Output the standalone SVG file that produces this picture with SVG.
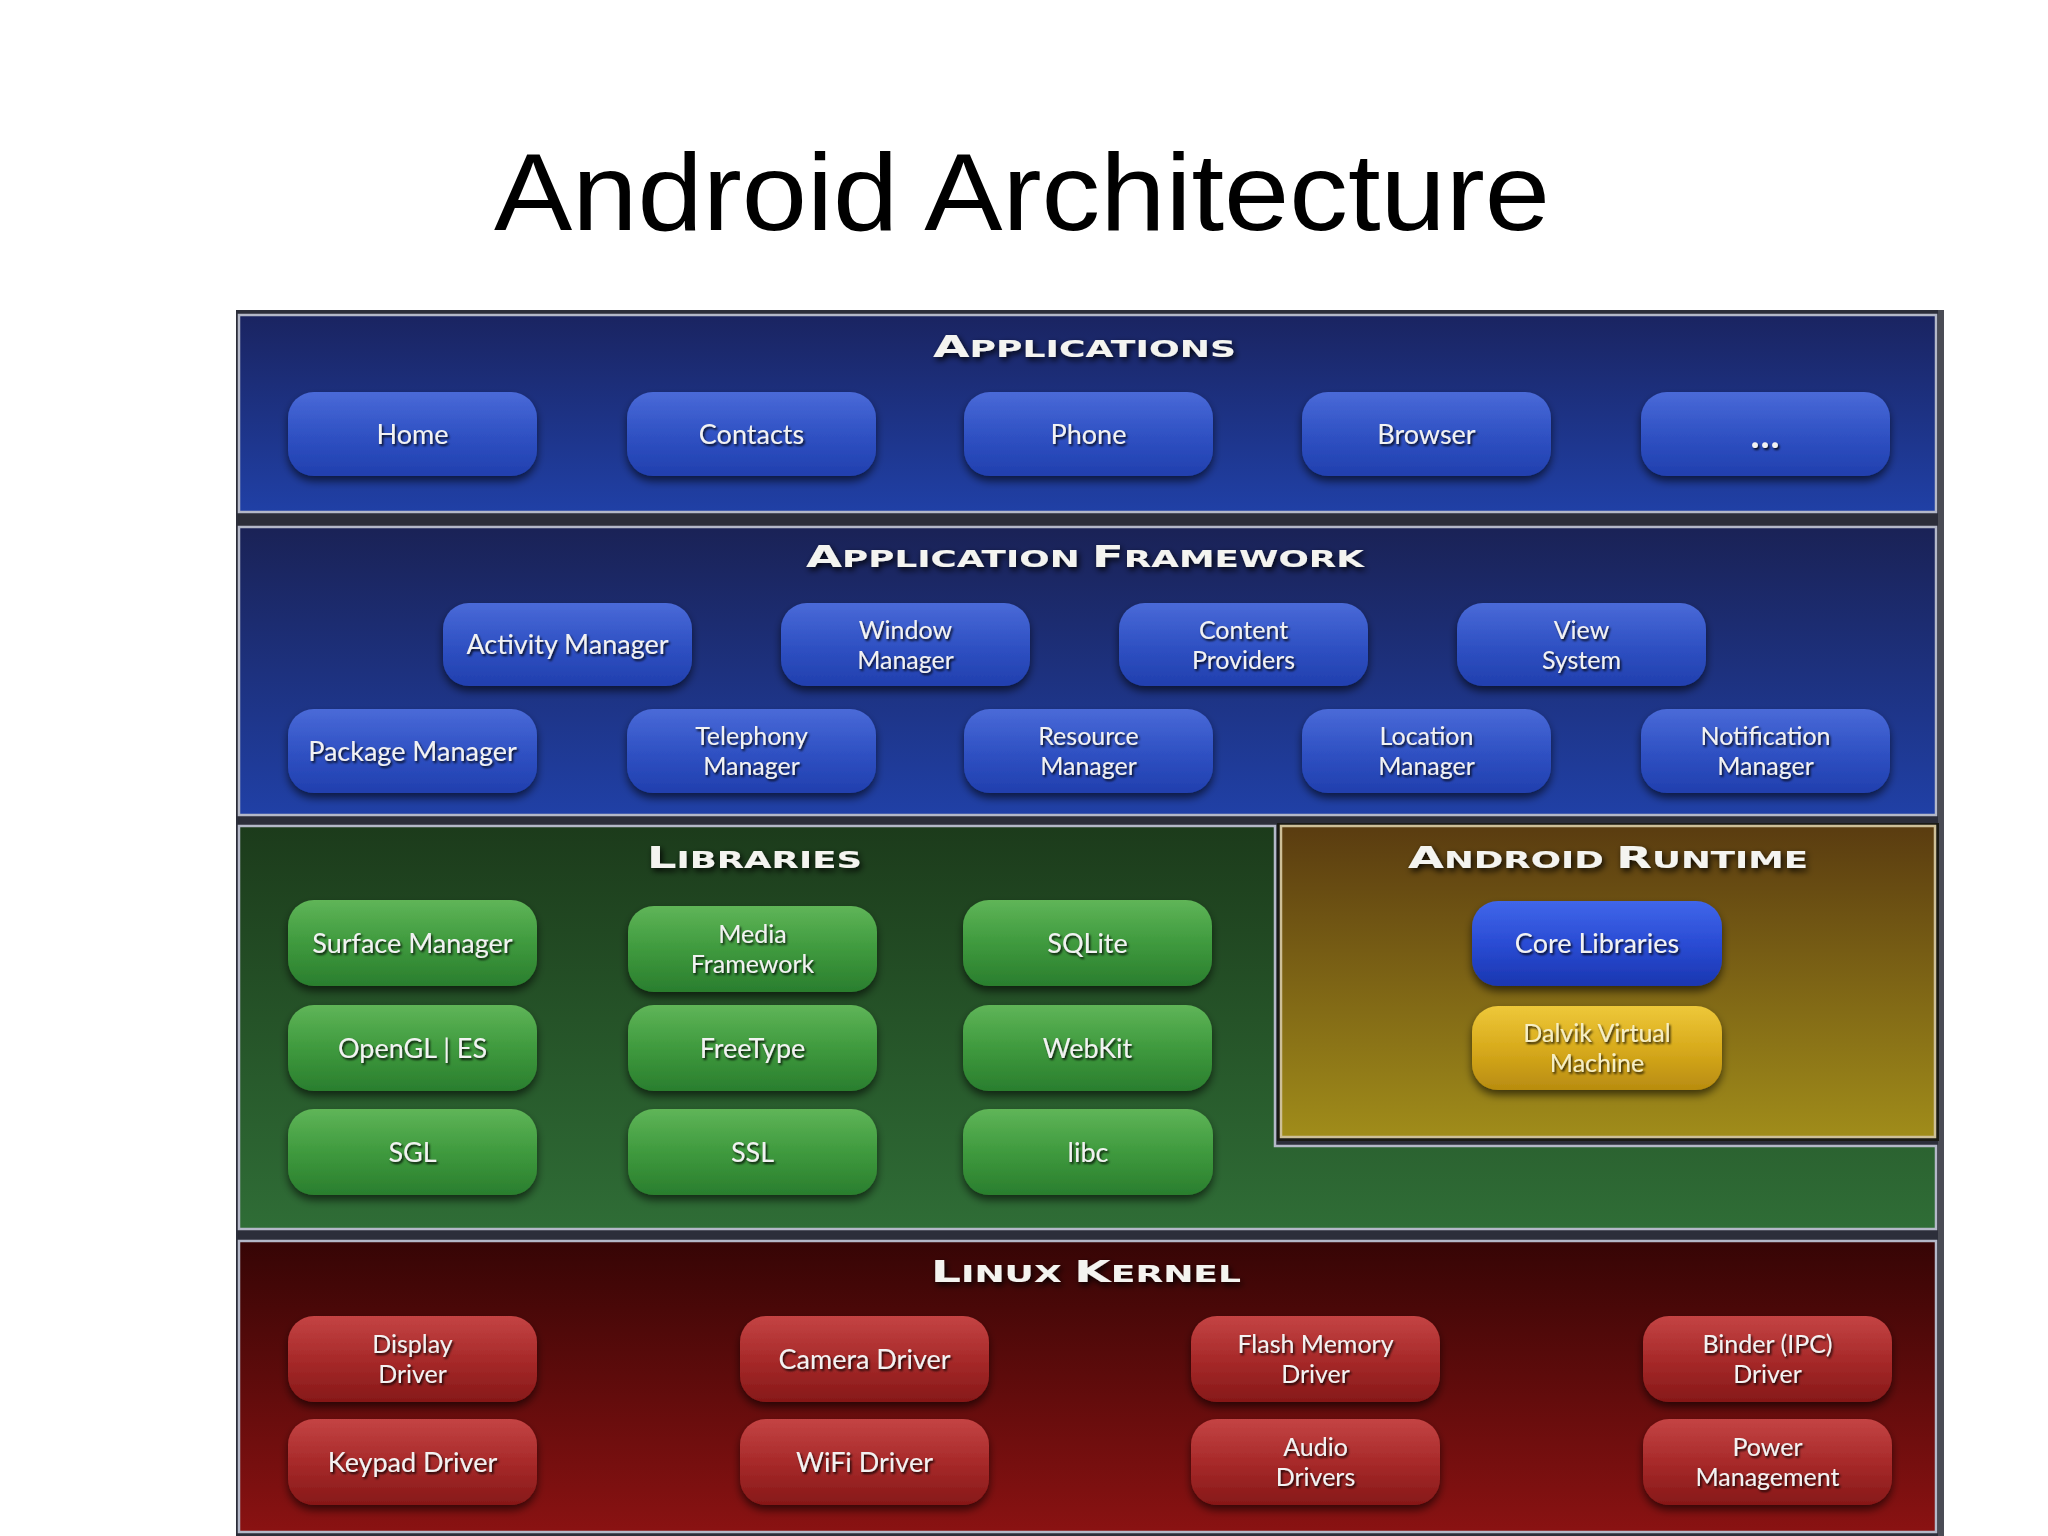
<svg xmlns="http://www.w3.org/2000/svg" width="2048" height="1536" viewBox="0 0 2048 1536">
<defs>
<linearGradient id="gApps" x1="0" y1="0" x2="0" y2="1"><stop offset="0" stop-color="#1a2461"/><stop offset="1" stop-color="#2040a6"/></linearGradient>
<linearGradient id="gFw" x1="0" y1="0" x2="0" y2="1"><stop offset="0" stop-color="#1a2256"/><stop offset="1" stop-color="#2040a6"/></linearGradient>
<linearGradient id="gLib" x1="0" y1="0" x2="0" y2="1"><stop offset="0" stop-color="#1c3b1b"/><stop offset="1" stop-color="#2f6d36"/></linearGradient>
<linearGradient id="gRt" x1="0" y1="0" x2="0" y2="1"><stop offset="0" stop-color="#5a3c10"/><stop offset="1" stop-color="#a08c1a"/></linearGradient>
<linearGradient id="gLnx" x1="0" y1="0" x2="0" y2="1"><stop offset="0" stop-color="#360505"/><stop offset="1" stop-color="#8a1212"/></linearGradient>
<linearGradient id="bBlue" x1="0" y1="0" x2="0" y2="1"><stop offset="0" stop-color="#4a6ad8"/><stop offset="0.5" stop-color="#3052c4"/><stop offset="1" stop-color="#213fae"/></linearGradient>
<linearGradient id="bCore" x1="0" y1="0" x2="0" y2="1"><stop offset="0" stop-color="#4066ea"/><stop offset="0.5" stop-color="#2a4cd4"/><stop offset="1" stop-color="#1a36b0"/></linearGradient>
<linearGradient id="bGreen" x1="0" y1="0" x2="0" y2="1"><stop offset="0" stop-color="#5fb558"/><stop offset="0.5" stop-color="#3f9a3e"/><stop offset="1" stop-color="#2a7e2e"/></linearGradient>
<linearGradient id="bYellow" x1="0" y1="0" x2="0" y2="1"><stop offset="0" stop-color="#eec83a"/><stop offset="0.5" stop-color="#d8ab1c"/><stop offset="1" stop-color="#b88c10"/></linearGradient>
<linearGradient id="bRed" x1="0" y1="0" x2="0" y2="1"><stop offset="0" stop-color="#c44444"/><stop offset="0.5" stop-color="#a82a2a"/><stop offset="1" stop-color="#861818"/></linearGradient>
<filter id="btnShadow" x="-10%" y="-15%" width="120%" height="145%"><feDropShadow dx="0" dy="5" stdDeviation="4" flood-color="#000" flood-opacity="0.6"/></filter>
<filter id="txtShadow" x="-10%" y="-30%" width="120%" height="160%"><feDropShadow dx="1.5" dy="2" stdDeviation="1" flood-color="#000" flood-opacity="0.85"/></filter>
<filter id="hdrShadow" x="-10%" y="-50%" width="120%" height="200%"><feDropShadow dx="2" dy="3" stdDeviation="3" flood-color="#000" flood-opacity="0.9"/></filter>
</defs>
<style>
.band{stroke:#b4b8c8;stroke-width:2.5}
.btn{filter:url(#btnShadow)}
.bb{fill:url(#bBlue)}
.bc{fill:url(#bCore)}
.bg{fill:url(#bGreen)}
.by{fill:url(#bYellow)}
.br{fill:url(#bRed)}
.lbl{font-family:Lato,"Open Sans","Liberation Sans",sans-serif;font-size:27px;fill:#f2f2f2;text-anchor:middle;filter:url(#txtShadow)}
.l2{font-size:25px}
.ly{fill:#f6eec4}
.dots{font-size:38px;font-weight:bold;letter-spacing:1px}
.hdr{font-family:"DejaVu Sans","Liberation Sans",sans-serif;font-weight:bold;font-size:30px;fill:#f4f4f0;filter:url(#hdrShadow)}
.sc{font-size:23px}
.title{font-family:"Liberation Sans",Arial,sans-serif;font-size:110px;fill:#000}
</style>
<rect x="0" y="0" width="2048" height="1536" fill="#ffffff"/>
<text class="title" x="494" y="230" textLength="1056" lengthAdjust="spacingAndGlyphs">Android Architecture</text>

<g id="frame">
<rect x="236" y="310" width="1708" height="1226" fill="#2c2e3a"/>
<rect x="1938" y="310" width="6" height="1226" fill="#4a4c55"/>
</g>

<g id="applications">
<rect class="band" x="239" y="315" width="1697" height="197" fill="url(#gApps)"/>
<text class="hdr" x="933" y="357" textLength="303" lengthAdjust="spacingAndGlyphs">A<tspan class="sc">PPLICATIONS</tspan></text>
</g>
<g id="framework">
<rect class="band" x="239" y="527" width="1697" height="288" fill="url(#gFw)"/>
<text class="hdr" x="806" y="567" textLength="558" lengthAdjust="spacingAndGlyphs">A<tspan class="sc">PPLICATION </tspan>F<tspan class="sc">RAMEWORK</tspan></text>
</g>
<g id="libraries">
<path class="band" d="M239,826 H1275 V1146 H1936 V1229 H239 Z" fill="url(#gLib)"/>
<text class="hdr" x="647" y="868" textLength="215" lengthAdjust="spacingAndGlyphs">L<tspan class="sc">IBRARIES</tspan></text>
</g>
<g id="runtime">
<rect x="1277" y="823" width="662" height="318" fill="#1a1a14"/>
<rect x="1281" y="826" width="654" height="311" fill="url(#gRt)" stroke="#cdbf98" stroke-width="2.5"/>
<text class="hdr" x="1408" y="868" textLength="400" lengthAdjust="spacingAndGlyphs">A<tspan class="sc">NDROID </tspan>R<tspan class="sc">UNTIME</tspan></text>
</g>
<g id="linux">
<rect class="band" x="239" y="1241" width="1697" height="291" fill="url(#gLnx)" stroke="#c4aaaa"/>
<text class="hdr" x="931" y="1282" textLength="310" lengthAdjust="spacingAndGlyphs">L<tspan class="sc">INUX </tspan>K<tspan class="sc">ERNEL</tspan></text>
</g>

<g id="connectors"></g>

<!-- Applications -->
<g id="home"><rect class="btn bb" x="288" y="392" width="249" height="84" rx="26"/><text class="lbl" x="412.5" y="444">Home</text></g>
<g id="contacts"><rect class="btn bb" x="627" y="392" width="249" height="84" rx="26"/><text class="lbl" x="751.5" y="444">Contacts</text></g>
<g id="phone"><rect class="btn bb" x="964" y="392" width="249" height="84" rx="26"/><text class="lbl" x="1088.5" y="444">Phone</text></g>
<g id="browser"><rect class="btn bb" x="1302" y="392" width="249" height="84" rx="26"/><text class="lbl" x="1426.5" y="444">Browser</text></g>
<g id="more-apps"><rect class="btn bb" x="1641" y="392" width="249" height="84" rx="26"/><text class="lbl dots" x="1765.5" y="448">...</text></g>

<!-- Application Framework -->
<g id="activity-manager"><rect class="btn bb" x="443" y="603" width="249" height="83" rx="26"/><text class="lbl" x="567.5" y="654">Activity Manager</text></g>
<g id="window-manager"><rect class="btn bb" x="781" y="603" width="249" height="83" rx="26"/><text class="lbl l2" x="905.5" y="639">Window<tspan x="905.5" dy="30">Manager</tspan></text></g>
<g id="content-providers"><rect class="btn bb" x="1119" y="603" width="249" height="83" rx="26"/><text class="lbl l2" x="1243.5" y="639">Content<tspan x="1243.5" dy="30">Providers</tspan></text></g>
<g id="view-system"><rect class="btn bb" x="1457" y="603" width="249" height="83" rx="26"/><text class="lbl l2" x="1581.5" y="639">View<tspan x="1581.5" dy="30">System</tspan></text></g>
<g id="package-manager"><rect class="btn bb" x="288" y="709" width="249" height="84" rx="26"/><text class="lbl" x="412.5" y="761">Package Manager</text></g>
<g id="telephony-manager"><rect class="btn bb" x="627" y="709" width="249" height="84" rx="26"/><text class="lbl l2" x="751.5" y="745">Telephony<tspan x="751.5" dy="30">Manager</tspan></text></g>
<g id="resource-manager"><rect class="btn bb" x="964" y="709" width="249" height="84" rx="26"/><text class="lbl l2" x="1088.5" y="745">Resource<tspan x="1088.5" dy="30">Manager</tspan></text></g>
<g id="location-manager"><rect class="btn bb" x="1302" y="709" width="249" height="84" rx="26"/><text class="lbl l2" x="1426.5" y="745">Location<tspan x="1426.5" dy="30">Manager</tspan></text></g>
<g id="notification-manager"><rect class="btn bb" x="1641" y="709" width="249" height="84" rx="26"/><text class="lbl l2" x="1765.5" y="745">Notification<tspan x="1765.5" dy="30">Manager</tspan></text></g>

<!-- Libraries -->
<g id="surface-manager"><rect class="btn bg" x="288" y="900" width="249" height="86" rx="26"/><text class="lbl" x="412.5" y="953">Surface Manager</text></g>
<g id="media-framework"><rect class="btn bg" x="628" y="906" width="249" height="86" rx="26"/><text class="lbl l2" x="752.5" y="943">Media<tspan x="752.5" dy="30">Framework</tspan></text></g>
<g id="sqlite"><rect class="btn bg" x="963" y="900" width="249" height="86" rx="26"/><text class="lbl" x="1087.5" y="953">SQLite</text></g>
<g id="opengl-es"><rect class="btn bg" x="288" y="1005" width="249" height="86" rx="26"/><text class="lbl" x="412.5" y="1058">OpenGL | ES</text></g>
<g id="freetype"><rect class="btn bg" x="628" y="1005" width="249" height="86" rx="26"/><text class="lbl" x="752.5" y="1058">FreeType</text></g>
<g id="webkit"><rect class="btn bg" x="963" y="1005" width="249" height="86" rx="26"/><text class="lbl" x="1087.5" y="1058">WebKit</text></g>
<g id="sgl"><rect class="btn bg" x="288" y="1109" width="249" height="86" rx="26"/><text class="lbl" x="412.5" y="1162">SGL</text></g>
<g id="ssl"><rect class="btn bg" x="628" y="1109" width="249" height="86" rx="26"/><text class="lbl" x="752.5" y="1162">SSL</text></g>
<g id="libc"><rect class="btn bg" x="963" y="1109" width="250" height="86" rx="26"/><text class="lbl" x="1088" y="1162">libc</text></g>

<!-- Android Runtime -->
<g id="core-libraries"><rect class="btn bc" x="1472" y="901" width="250" height="85" rx="26"/><text class="lbl" x="1597" y="953">Core Libraries</text></g>
<g id="dalvik-vm"><rect class="btn by" x="1472" y="1006" width="250" height="84" rx="26"/><text class="lbl l2 ly" x="1597" y="1042">Dalvik Virtual<tspan x="1597" dy="30">Machine</tspan></text></g>

<!-- Linux Kernel -->
<g id="display-driver"><rect class="btn br" x="288" y="1316" width="249" height="86" rx="26"/><text class="lbl l2" x="412.5" y="1353">Display<tspan x="412.5" dy="30">Driver</tspan></text></g>
<g id="camera-driver"><rect class="btn br" x="740" y="1316" width="249" height="86" rx="26"/><text class="lbl" x="864.5" y="1369">Camera Driver</text></g>
<g id="flash-memory-driver"><rect class="btn br" x="1191" y="1316" width="249" height="86" rx="26"/><text class="lbl l2" x="1315.5" y="1353">Flash Memory<tspan x="1315.5" dy="30">Driver</tspan></text></g>
<g id="binder-driver"><rect class="btn br" x="1643" y="1316" width="249" height="86" rx="26"/><text class="lbl l2" x="1767.5" y="1353">Binder (IPC)<tspan x="1767.5" dy="30">Driver</tspan></text></g>
<g id="keypad-driver"><rect class="btn br" x="288" y="1419" width="249" height="86" rx="26"/><text class="lbl" x="412.5" y="1472">Keypad Driver</text></g>
<g id="wifi-driver"><rect class="btn br" x="740" y="1419" width="249" height="86" rx="26"/><text class="lbl" x="864.5" y="1472">WiFi Driver</text></g>
<g id="audio-drivers"><rect class="btn br" x="1191" y="1419" width="249" height="86" rx="26"/><text class="lbl l2" x="1315.5" y="1456">Audio<tspan x="1315.5" dy="30">Drivers</tspan></text></g>
<g id="power-management"><rect class="btn br" x="1643" y="1419" width="249" height="86" rx="26"/><text class="lbl l2" x="1767.5" y="1456">Power<tspan x="1767.5" dy="30">Management</tspan></text></g>
</svg>
